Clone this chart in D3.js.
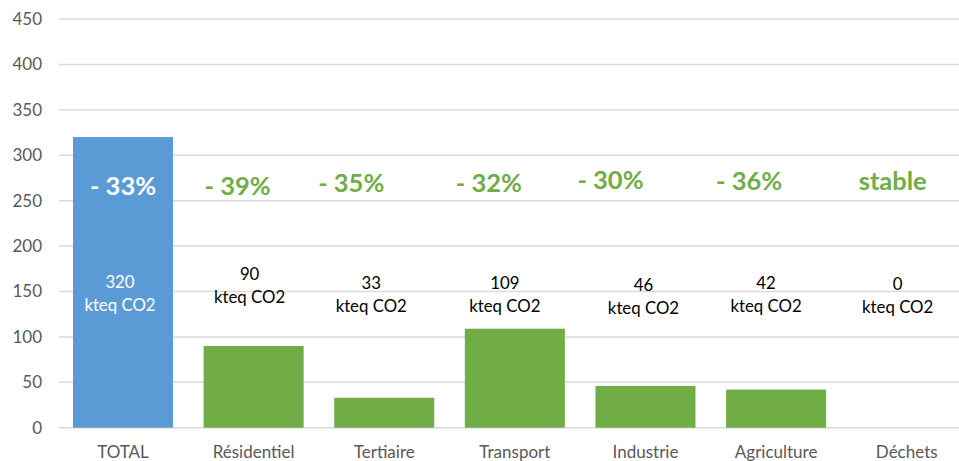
<!DOCTYPE html>
<html>
<head>
<meta charset="utf-8">
<script src="https://cdn.jsdelivr.net/npm/d3@7"></script>
<style>
  html, body { margin: 0; padding: 0; background: #fff; }
  svg { display: block; font-family: Lato, "Open Sans", sans-serif; }
</style>
</head>
<body>
<svg id="chart" width="959" height="461"></svg>
<script>
// Emissions by sector, kteq CO2
const categories = ["TOTAL", "Résidentiel", "Tertiaire", "Transport", "Industrie", "Agriculture", "Déchets"];
const values = [320, 90, 33, 109, 46, 42, 0];
const changes = ["- 33%", "- 39%", "- 35%", "- 32%", "- 30%", "- 36%", "stable"];
const yTicks = [0, 50, 100, 150, 200, 250, 300, 350, 400, 450];
const unit = "kteq CO2";

const svg = d3.select("#chart");
const W = 959, H = 461;

const x = d3.scaleBand().domain(categories).range([57.7, 972]).paddingInner(0.2343).paddingOuter(0.117);
const y = d3.scaleLinear().domain([0, 450]).range([427.7, 19]);

const grey = "#595959", green = "#70AD47", blue = "#5B9BD5";

// horizontal gridlines
svg.append("g")
  .selectAll("line")
  .data(yTicks)
  .join("line")
  .attr("x1", 59).attr("x2", W)
  .attr("y1", d => y(d)).attr("y2", d => y(d))
  .attr("stroke", "#d9d9d9").attr("stroke-width", 1.5);

// y axis labels
const yAxis = d3.axisLeft(y).tickValues(yTicks).tickSize(0).tickPadding(0);
svg.append("g")
  .attr("transform", "translate(42,0)")
  .call(yAxis)
  .call(g => g.select(".domain").remove())
  .call(g => g.selectAll("text")
    .attr("fill", grey).attr("font-size", 17)
    .attr("font-family", "Lato, sans-serif"));

// bars
svg.append("g")
  .selectAll("rect")
  .data(categories)
  .join("rect")
  .attr("x", d => x(d))
  .attr("width", x.bandwidth())
  .attr("y", (d, i) => y(values[i]))
  .attr("height", (d, i) => y(0) - y(values[i]))
  .attr("fill", (d, i) => i === 0 ? blue : green);

// category labels along the bottom edge
const xAxis = d3.axisBottom(x).tickSize(0).tickPadding(0);
svg.append("g")
  .call(xAxis)
  .call(g => g.select(".domain").remove())
  .call(g => g.selectAll("text")
    .attr("fill", grey).attr("font-size", 17)
    .attr("font-family", "Lato, sans-serif")
    .attr("y", 458).attr("dy", null));

// text boxes sit slightly left of each bar centre
const changeShift = [0, -16, -33, -26, -35, -27, -14];
const changeY = [186, 186, 183, 183, 180, 181, 181];
const valueShift = [-3, -4, -13, -10, -2, -10, -9];
const valueY = [282, 274, 283, 283, 285, 283, 284];

const cx = (d) => x(d) + x.bandwidth() / 2;

// change since reference year
svg.append("g")
  .selectAll("text")
  .data(categories)
  .join("text")
  .attr("x", (d, i) => cx(d) + changeShift[i])
  .attr("y", (d, i) => changeY[i])
  .attr("dy", "0.35em")
  .attr("text-anchor", "middle")
  .attr("font-weight", "bold")
  .attr("font-size", 25.5)
  .attr("fill", (d, i) => i === 0 ? "#fff" : green)
  .text((d, i) => changes[i]);

// value labels, two lines
const vl = svg.append("g")
  .selectAll("text")
  .data(categories)
  .join("text")
  .attr("text-anchor", "middle")
  .attr("font-size", 16.8)
  .attr("fill", (d, i) => i === 0 ? "#fff" : "#000");
vl.append("tspan")
  .attr("x", (d, i) => cx(d) + valueShift[i])
  .attr("y", (d, i) => valueY[i])
  .attr("dy", "0.35em")
  .text((d, i) => values[i]);
vl.append("tspan")
  .attr("x", (d, i) => cx(d) + valueShift[i])
  .attr("y", (d, i) => valueY[i] + 23)
  .attr("dy", "0.35em")
  .text(unit);
</script>
</body>
</html>
